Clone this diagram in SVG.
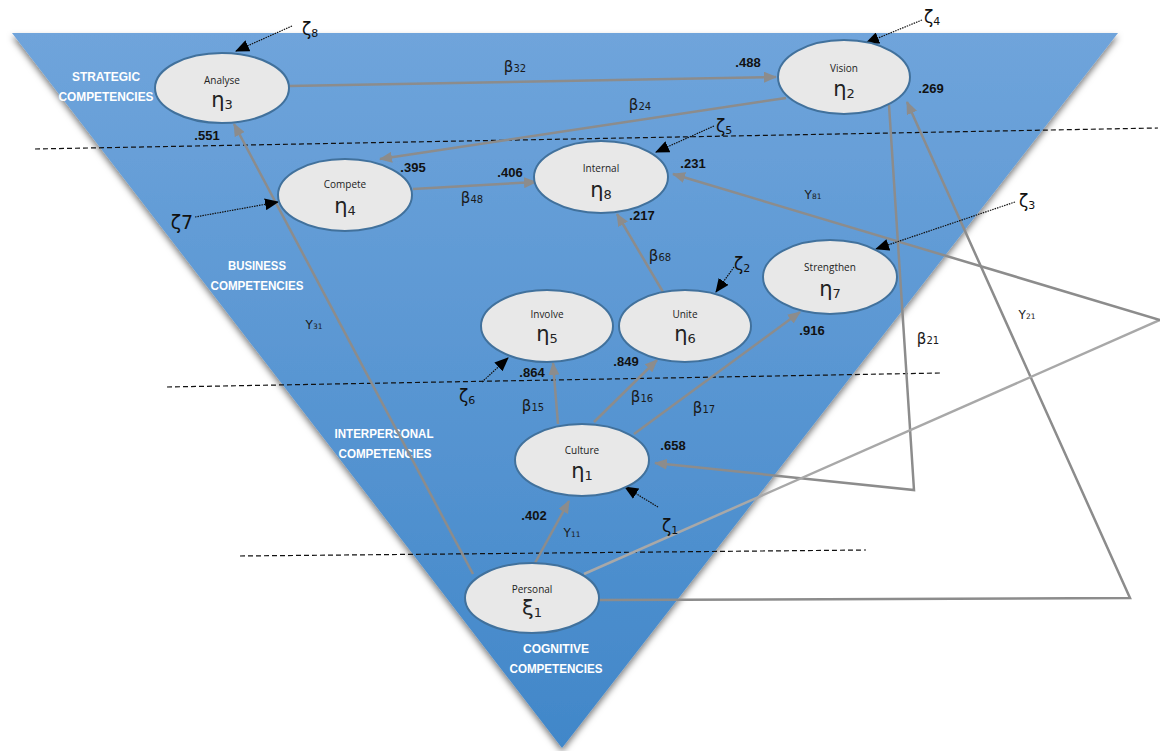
<svg xmlns="http://www.w3.org/2000/svg" width="1160" height="751" viewBox="0 0 1160 751">
<defs>
<linearGradient id="bg" x1="0" y1="0" x2="0" y2="1">
<stop offset="0" stop-color="#6fa4db"/>
<stop offset="1" stop-color="#4187c9"/>
</linearGradient>
<filter id="sh" x="-10%" y="-10%" width="120%" height="120%">
<feDropShadow dx="0" dy="4" stdDeviation="3" flood-color="#000" flood-opacity="0.5"/>
</filter>
<marker id="ga" markerUnits="userSpaceOnUse" markerWidth="13" markerHeight="11" refX="12" refY="5.5" orient="auto">
<path d="M0,0 L13,5.5 L0,11 z" fill="#8c8c8c"/>
</marker>
<marker id="ka" markerUnits="userSpaceOnUse" markerWidth="14" markerHeight="12" refX="13" refY="6" orient="auto">
<path d="M0,0 L14,6 L0,12 z" fill="#000"/>
</marker>
<style>
.node ellipse{fill:#e8e8e8;stroke:#41719c;stroke-width:2}
.nm{font-family:"Open Sans","Liberation Sans",sans-serif;font-size:10px;fill:#222;text-anchor:middle}
.sym{font-family:"DejaVu Sans","Liberation Sans",sans-serif;font-size:21px;fill:#222;text-anchor:middle}
.sym tspan{font-size:13px}
.lv{font-family:"Liberation Sans",sans-serif;font-weight:bold;font-size:13px;fill:#fff;text-anchor:middle}
.num{font-family:"Liberation Sans",sans-serif;font-weight:bold;font-size:13px;fill:#111;text-anchor:middle}
.b{font-family:"DejaVu Sans","Liberation Sans",sans-serif;font-size:15px;fill:#1a1a1a;text-anchor:middle}
.b tspan{font-size:10px}
.g{font-family:"DejaVu Sans","Liberation Sans",sans-serif;font-size:12px;fill:#1a1a1a;text-anchor:middle}
.g tspan{font-size:7.5px}
.z{font-family:"DejaVu Sans","Liberation Sans",sans-serif;font-size:17px;fill:#111;text-anchor:middle}
.z tspan{font-size:11px}
.con path{fill:none;stroke:#8c8c8c;stroke-width:2.5;marker-end:url(#ga)}
.zc path{fill:none;stroke:#111;stroke-width:1.2;stroke-dasharray:1.5 1;marker-end:url(#ka)}
.dash line{stroke:#111;stroke-width:1.2;stroke-dasharray:5 3}
</style>
</defs>
<rect width="1160" height="751" fill="#fff"/>
<polygon points="12,33 1118,33 562,748" fill="url(#bg)" filter="url(#sh)"/>

<g id="dividers" class="dash">
<line x1="35" y1="149" x2="1158" y2="128"/>
<line x1="167" y1="387" x2="940" y2="373"/>
<line x1="240" y1="556" x2="866" y2="550"/>
</g>

<g id="levels">
<text class="lv" x="106" y="81" textLength="68" lengthAdjust="spacingAndGlyphs">STRATEGIC</text>
<text class="lv" x="106" y="101" textLength="95" lengthAdjust="spacingAndGlyphs">COMPETENCIES</text>
<text class="lv" x="257" y="270" textLength="58" lengthAdjust="spacingAndGlyphs">BUSINESS</text>
<text class="lv" x="257" y="290" textLength="93" lengthAdjust="spacingAndGlyphs">COMPETENCIES</text>
<text class="lv" x="384" y="438" textLength="99" lengthAdjust="spacingAndGlyphs">INTERPERSONAL</text>
<text class="lv" x="385" y="458" textLength="93" lengthAdjust="spacingAndGlyphs">COMPETENCIES</text>
<text class="lv" x="556" y="653" textLength="66" lengthAdjust="spacingAndGlyphs">COGNITIVE</text>
<text class="lv" x="556" y="673" textLength="93" lengthAdjust="spacingAndGlyphs">COMPETENCIES</text>
</g>

<g id="connectors">
<g class="con">
<path d="M289,86 L776,77"/>
<path d="M786,98 L380,159"/>
<path d="M413,189 L536,182"/>
<path d="M663,292 L617,214"/>
<path d="M558,424 L553,363"/>
<path d="M594,422 L657,360"/>
<path d="M634,434 L800,312"/>
<path d="M535,563 L569,501"/>
<path d="M473,574 L234,124"/>
<path d="M598,600 L1130,598 L907,102"/>
<path d="M889,105 L914,490 L655,463"/>
<path d="M584,574 L1160,320" style="stroke:#a8a8a8;marker-end:none"/>
<path d="M1160,320 L673,174"/>
</g>
<g class="zc">
<path d="M292,26 L236,51"/>
<path d="M922,20 L866,43"/>
<path d="M714,126 L656,152"/>
<path d="M1015,202 L876,249"/>
<path d="M734,267 L716,292"/>
<path d="M482,382 L508,358"/>
<path d="M658,507 L625,487"/>
<path d="M195,217 L278,202"/>
</g>
</g>

<g id="analyse" class="node"><ellipse cx="222" cy="88" rx="67" ry="35"/><text class="nm" x="222" y="84">Analyse</text><text class="sym" x="222" y="107">η<tspan dy="2">3</tspan></text></g>
<g id="vision" class="node"><ellipse cx="844" cy="77" rx="66" ry="37"/><text class="nm" x="844" y="72">Vision</text><text class="sym" x="844" y="96">η<tspan dy="2">2</tspan></text></g>
<g id="compete" class="node"><ellipse cx="345" cy="195" rx="67" ry="36"/><text class="nm" x="345" y="188">Compete</text><text class="sym" x="345" y="213">η<tspan dy="2">4</tspan></text></g>
<g id="internal" class="node"><ellipse cx="601" cy="177" rx="67" ry="36"/><text class="nm" x="601" y="172">Internal</text><text class="sym" x="601" y="197">η<tspan dy="2">8</tspan></text></g>
<g id="strengthen" class="node"><ellipse cx="830" cy="277" rx="67" ry="37"/><text class="nm" x="830" y="271">Strengthen</text><text class="sym" x="830" y="296">η<tspan dy="2">7</tspan></text></g>
<g id="involve" class="node"><ellipse cx="547" cy="326" rx="66" ry="36"/><text class="nm" x="547" y="318">Involve</text><text class="sym" x="547" y="341">η<tspan dy="2">5</tspan></text></g>
<g id="unite" class="node"><ellipse cx="685" cy="326" rx="66" ry="36"/><text class="nm" x="685" y="318">Unite</text><text class="sym" x="685" y="341">η<tspan dy="2">6</tspan></text></g>
<g id="culture" class="node"><ellipse cx="582" cy="460" rx="67" ry="36"/><text class="nm" x="582" y="454">Culture</text><text class="sym" x="582" y="478">η<tspan dy="2">1</tspan></text></g>
<g id="personal" class="node"><ellipse cx="532" cy="598" rx="67" ry="35"/><text class="nm" x="532" y="593">Personal</text><text class="sym" x="532" y="615">ξ<tspan dy="2">1</tspan></text></g>

<g id="labels">
<text class="num" x="748" y="67">.488</text>
<text class="num" x="931" y="93">.269</text>
<text class="num" x="207" y="140">.551</text>
<text class="num" x="413" y="172">.395</text>
<text class="num" x="510" y="177">.406</text>
<text class="num" x="693" y="168">.231</text>
<text class="num" x="642" y="220">.217</text>
<text class="num" x="626" y="366">.849</text>
<text class="num" x="532" y="377">.864</text>
<text class="num" x="812" y="335">.916</text>
<text class="num" x="673" y="450">.658</text>
<text class="num" x="534" y="520">.402</text>

<text class="b" x="515" y="72">β<tspan>32</tspan></text>
<text class="b" x="640" y="110">β<tspan>24</tspan></text>
<text class="b" x="472" y="203">β<tspan>48</tspan></text>
<text class="b" x="660" y="261">β<tspan>68</tspan></text>
<text class="b" x="533" y="411">β<tspan>15</tspan></text>
<text class="b" x="642" y="402">β<tspan>16</tspan></text>
<text class="b" x="704" y="413">β<tspan>17</tspan></text>
<text class="b" x="928" y="344">β<tspan>21</tspan></text>

<text class="g" x="572" y="537">Υ<tspan>11</tspan></text>
<text class="g" x="314" y="329">Υ<tspan>31</tspan></text>
<text class="g" x="1027" y="319">Υ<tspan>21</tspan></text>
<text class="g" x="813" y="199">Υ<tspan>81</tspan></text>

<text class="z" x="310" y="35">ζ<tspan dy="2">8</tspan></text>
<text class="z" x="932" y="23">ζ<tspan dy="2">4</tspan></text>
<text class="z" x="724" y="132">ζ<tspan dy="2">5</tspan></text>
<text class="z" x="1027" y="207">ζ<tspan dy="2">3</tspan></text>
<text class="z" x="742" y="270">ζ<tspan dy="2">2</tspan></text>
<text class="z" x="467" y="402">ζ<tspan dy="2">6</tspan></text>
<text class="z" x="670" y="532">ζ<tspan dy="2">1</tspan></text>
<text class="z" x="182" y="229" style="font-size:19px">ζ7</text>
</g>
</svg>
